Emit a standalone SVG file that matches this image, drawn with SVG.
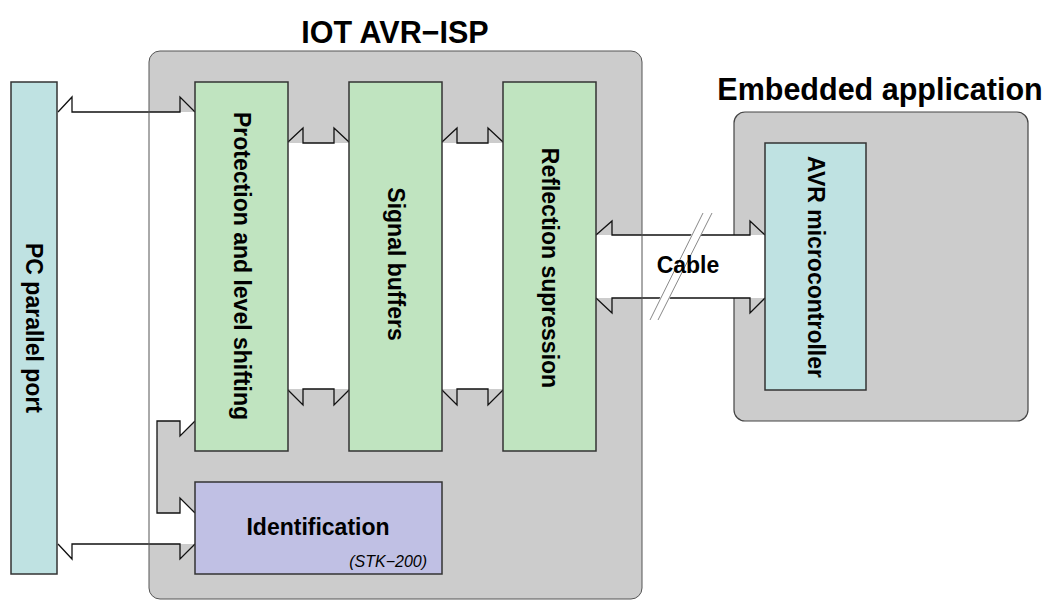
<svg xmlns="http://www.w3.org/2000/svg" width="1049" height="601" viewBox="0 0 1049 601">
<style>
  .t{font-family:"Liberation Sans",Arial,Helvetica,sans-serif;font-weight:bold;fill:#000}
  .blk{stroke:#333;stroke-width:1.5}
  .cyan{fill:#bfe2e2}
  .green{fill:#c0e4c0}
  .purple{fill:#c0c0e4}
  .edge{fill:none;stroke:#111;stroke-width:1.3;stroke-linejoin:miter}
  .shaft{fill:#fff}
</style>
<rect width="1049" height="601" fill="#fff"/>
<g id="iot-box-fill"><rect x="149" y="51" width="493" height="548" rx="11" fill="#cccccc"/></g>
<g id="embedded-box"><rect x="734" y="112" width="294" height="309" rx="11" fill="#cccccc" stroke="#444" stroke-width="1.2"/></g>
<g id="connectors">
  <rect class="shaft" x="58" y="112" width="137" height="432"/>
  <rect class="shaft" x="288" y="143" width="61" height="246"/>
  <rect class="shaft" x="442" y="143" width="61" height="246"/>
  <rect class="shaft" x="596" y="235" width="169" height="63"/>
  <polyline class="edge" points="58,112 72,97 72,112 180,112 180,97 195,112"/>
  <polyline class="edge" points="58,544 72,559 72,544 180,544 180,559 195,544"/>
  <polyline class="edge" points="288,142 303,128 303,143 334,143 334,128 349,142"/>
  <polyline class="edge" points="288,390 303,405 303,389 334,389 334,405 349,390"/>
  <polyline class="edge" points="442,142 457,128 457,143 488,143 488,128 503,142"/>
  <polyline class="edge" points="442,390 457,405 457,389 488,389 488,405 503,390"/>
  <polyline class="edge" points="596,235 612,221 612,235 750,235 750,221 765,235"/>
  <polyline class="edge" points="596,298 612,313 612,298 750,298 750,313 765,298"/>
  <polygon points="195,421 180,436 180,421 157,421 157,513 180,513 180,498 195,513" fill="#cccccc"/>
  <polyline class="edge" points="195,421 180,436 180,421 157,421 157,513 180,513 180,498 195,513"/>
  <line x1="707" y1="213" x2="654" y2="320" stroke="#fff" stroke-width="9"/>
  <line x1="703" y1="213" x2="650" y2="320" stroke="#888" stroke-width="1"/>
  <line x1="712" y1="213" x2="658" y2="320" stroke="#888" stroke-width="1"/>
</g>
<g id="iot-box-outline"><rect x="149" y="51" width="493" height="548" rx="11" fill="none" stroke="#555" stroke-width="1"/></g>
<text class="t" x="395" y="43" font-size="30.5" text-anchor="middle">IOT AVR−ISP</text>
<text class="t" x="880" y="100" font-size="30.5" text-anchor="middle">Embedded application</text>
<g id="pc-port">
  <rect class="blk cyan" x="11" y="82" width="46" height="492"/>
  <text class="t" font-size="23" text-anchor="middle" transform="translate(34,328) rotate(90)" x="0" y="8">PC parallel port</text>
</g>
<g id="protection">
  <rect class="blk green" x="195" y="82" width="93" height="369"/>
  <text class="t" font-size="23" text-anchor="middle" transform="translate(241.5,266) rotate(90)" x="0" y="8">Protection and level shifting</text>
</g>
<g id="signal-buffers">
  <rect class="blk green" x="349" y="82" width="93" height="369"/>
  <text class="t" font-size="23" text-anchor="middle" transform="translate(395.5,264) rotate(90)" x="0" y="8">Signal buffers</text>
</g>
<g id="reflection">
  <rect class="blk green" x="503" y="82" width="93" height="369"/>
  <text class="t" font-size="23" text-anchor="middle" transform="translate(549.5,268) rotate(90)" x="0" y="8">Reflection supression</text>
</g>
<g id="identification">
  <rect class="blk purple" x="195" y="482" width="247" height="92"/>
  <text class="t" x="318" y="535" font-size="23" text-anchor="middle">Identification</text>
  <text x="427" y="567" font-size="16" font-style="italic" text-anchor="end" font-family="Liberation Sans,Arial,sans-serif">(STK−200)</text>
</g>
<g id="avr">
  <rect class="blk cyan" x="765" y="143" width="101" height="247"/>
  <text class="t" font-size="23" text-anchor="middle" transform="translate(815.5,267) rotate(90)" x="0" y="8">AVR microcontroller</text>
</g>
<text class="t" x="688" y="273" font-size="23" text-anchor="middle">Cable</text>
</svg>
